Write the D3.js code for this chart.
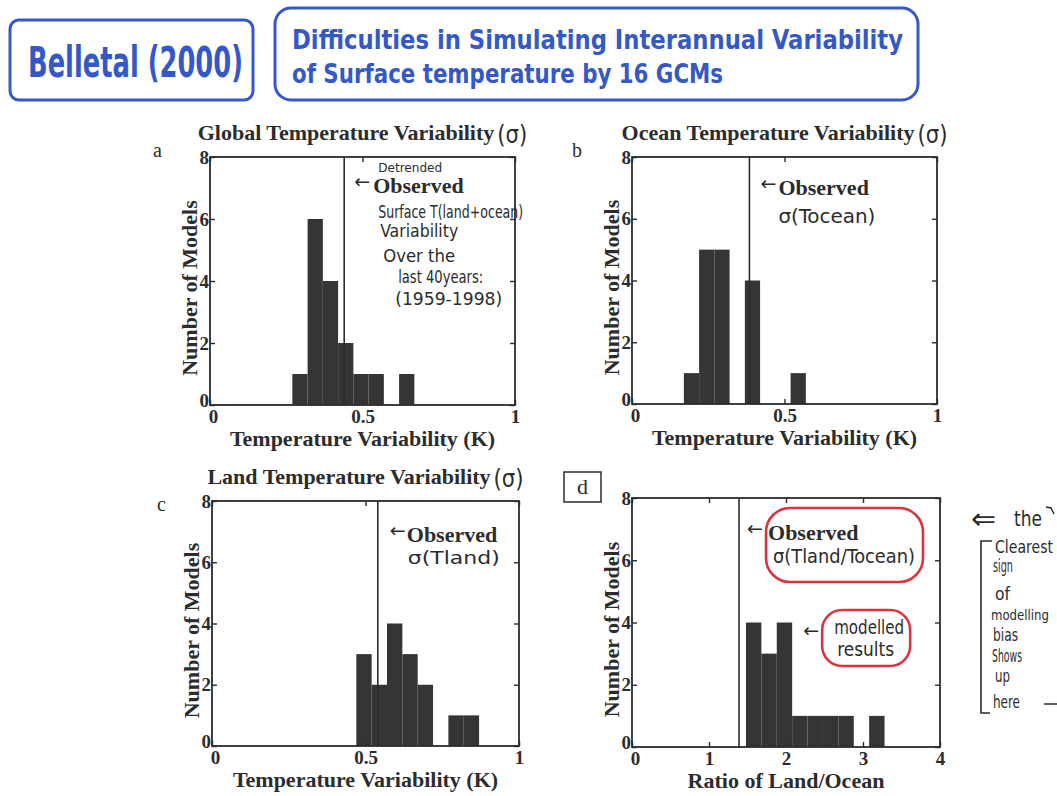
<!DOCTYPE html>
<html><head><meta charset="utf-8">
<script src="https://cdn.jsdelivr.net/npm/d3@7"></script>
<style>
body{margin:0;background:#fff;}
svg{display:block;}
</style></head><body>
<svg id="chart" width="1057" height="796"></svg>
<script>
// ---------------- DATA ----------------
const panelLetters = ["a", "b", "c", "d"];
const panelTitles = ["Global Temperature Variability", "Ocean Temperature Variability", "Land Temperature Variability", ""];
const xAxisLabels = ["Temperature Variability (K)", "Temperature Variability (K)", "Temperature Variability (K)", "Ratio of Land/Ocean"];
const yAxisLabel = "Number of Models";
const yTickValues = [0, 2, 4, 6, 8];
const xTickTemp = [0, 0.5, 1];
const xTickRatio = [0, 1, 2, 3, 4];
const binEdgesGlobal = [0.27, 0.32, 0.37, 0.42, 0.47, 0.52, 0.57, 0.62, 0.67];
const countsGlobal   = [1, 6, 4, 2, 1, 1, 0, 1];
const binEdgesOcean  = [0.17, 0.22, 0.27, 0.32, 0.37, 0.42, 0.47, 0.52, 0.57];
const countsOcean    = [1, 5, 5, 0, 4, 0, 0, 1];
const binEdgesLand   = [0.47, 0.52, 0.57, 0.62, 0.67, 0.72, 0.77, 0.82, 0.87];
const countsLand     = [3, 2, 4, 3, 2, 0, 1, 1];
const binEdgesRatio  = [1.48, 1.68, 1.88, 2.08, 2.28, 2.48, 2.68, 2.88, 3.08, 3.28];
const countsRatio    = [4, 3, 4, 1, 1, 1, 1, 0, 1];
const observedValues = [0.44, 0.385, 0.54, 1.39];
const headerRef = "Belletal (2000)";
const headerTitle = ["Difficulties in Simulating Interannual Variability", "of Surface temperature by 16 GCMs"];
const noteGlobal = ["Surface T(land+ocean)", "Variability", "Over the", "last 40years:", "(1959-1998)"];
const noteRight = ["Clearest", "sign", "of", "modelling", "bias", "Shows", "up", "here"];

// ---------------- LAYOUT ----------------
const svg = d3.select("#chart");
const INK = "#2c2c2c";
const BAR = "#353535";
const BLUE = "#3458c8";
const RED = "#d9343f";
const SERIF = "'Liberation Serif','Times New Roman',serif";
const HAND = "'Liberation Sans Narrow','DejaVu Sans Condensed','Open Sans',sans-serif";
const ARROWF = "'DejaVu Sans',sans-serif";

const frames = [
  {x0: 210, x1: 515, y0: 157, y1: 405},
  {x0: 632, x1: 937, y0: 157, y1: 404},
  {x0: 212, x1: 519, y0: 501, y1: 746},
  {x0: 632, x1: 940, y0: 498, y1: 747}
];
const panels = [
  {edges: binEdgesGlobal, counts: countsGlobal, domain: [0, 1], ticks: xTickTemp},
  {edges: binEdgesOcean,  counts: countsOcean,  domain: [0, 1], ticks: xTickTemp},
  {edges: binEdgesLand,   counts: countsLand,   domain: [0, 1], ticks: xTickTemp},
  {edges: binEdgesRatio,  counts: countsRatio,  domain: [0, 4], ticks: xTickRatio}
];

function handText(g, str, x, y, w, size, color) {
  const t = g.append("text").attr("x", x).attr("y", y)
    .attr("font-family", HAND).attr("font-size", size)
    .attr("fill", color || INK).text(str);
  if (w) t.attr("textLength", w).attr("lengthAdjust", "spacingAndGlyphs");
  return t;
}

// ---------------- HEADER ----------------
const hdr = svg.append("g");
hdr.append("rect").attr("x", 10).attr("y", 20).attr("width", 243).attr("height", 80)
  .attr("rx", 9).attr("fill", "none").attr("stroke", BLUE).attr("stroke-width", 3);
hdr.append("rect").attr("x", 275).attr("y", 8).attr("width", 643).attr("height", 92)
  .attr("rx", 16).attr("fill", "none").attr("stroke", BLUE).attr("stroke-width", 3);
handText(hdr, headerRef, 28, 77, 215, 42, BLUE).attr("font-weight", "bold");
handText(hdr, headerTitle[0], 292, 49, 611, 26, BLUE).attr("font-weight", "bold");
handText(hdr, headerTitle[1], 292, 83, 431, 26, BLUE).attr("font-weight", "bold");

// ---------------- PANELS ----------------
panels.forEach((p, i) => {
  const f = frames[i];
  const g = svg.append("g");
  const x = d3.scaleLinear().domain(p.domain).range([f.x0, f.x1]);
  const y = d3.scaleLinear().domain([0, 8]).range([f.y1, f.y0]);

  // bars
  const bins = p.counts.map((c, k) => ({x0: p.edges[k], x1: p.edges[k + 1], c}))
    .filter(b => b.c > 0);
  g.selectAll("rect.bar").data(bins).join("rect").attr("class", "bar")
    .attr("x", d => x(d.x0)).attr("width", d => x(d.x1) - x(d.x0))
    .attr("y", d => y(d.c)).attr("height", d => y(0) - y(d.c))
    .attr("fill", BAR);

  // observed line
  const ox = x(observedValues[i]);
  g.append("line").attr("x1", ox).attr("x2", ox).attr("y1", y(0)).attr("y2", y(8))
    .attr("stroke", INK).attr("stroke-width", 1.6);

  // frame
  g.append("rect").attr("x", f.x0).attr("y", f.y0)
    .attr("width", f.x1 - f.x0).attr("height", f.y1 - f.y0)
    .attr("fill", "none").attr("stroke", INK).attr("stroke-width", 1.8);

  const fmt = d => String(d);
  const styleAxis = sel => {
    sel.select(".domain").remove();
    sel.selectAll(".tick line").attr("stroke", INK).attr("stroke-width", 1.4);
    sel.selectAll(".tick text").attr("fill", INK).attr("font-family", SERIF)
      .attr("font-weight", "bold").attr("font-size", 19);
  };
  const bx = g.append("g").attr("transform", `translate(0,${f.y1})`)
    .call(d3.axisBottom(x).tickValues(p.ticks).tickFormat(fmt).tickSizeInner(-5).tickSizeOuter(0).tickPadding(5))
    .call(styleAxis);
  bx.selectAll(".tick text").filter(d => d === 0).attr("dx", 3);
  g.append("g").attr("transform", `translate(0,${f.y0})`)
    .call(d3.axisTop(x).tickValues(p.ticks).tickFormat("").tickSizeInner(-5).tickSizeOuter(0))
    .call(styleAxis);
  const ly = g.append("g").attr("transform", `translate(${f.x0},0)`)
    .call(d3.axisLeft(y).tickValues(yTickValues).tickFormat(fmt).tickSizeInner(-5).tickSizeOuter(0).tickPadding(1))
    .call(styleAxis);
  ly.selectAll(".tick text").filter(d => d === 0).attr("dy", "0.1em");
  g.append("g").attr("transform", `translate(${f.x1},0)`)
    .call(d3.axisRight(y).tickValues(yTickValues).tickFormat("").tickSizeInner(-5).tickSizeOuter(0))
    .call(styleAxis);

  // axis labels
  const cx = (f.x0 + f.x1) / 2, cy = (f.y0 + f.y1) / 2;
  g.append("text").attr("x", cx).attr("y", f.y1 + 41).attr("text-anchor", "middle")
    .attr("font-family", SERIF).attr("font-weight", "bold").attr("font-size", 22)
    .attr("fill", INK).text(xAxisLabels[i]);
  g.append("text").attr("transform", `translate(${f.x0 - 13},${cy + 7}) rotate(-90)`)
    .attr("text-anchor", "middle")
    .attr("font-family", SERIF).attr("font-weight", "bold").attr("font-size", 22)
    .attr("fill", INK).text(yAxisLabel);

  // title + handwritten (σ)
  if (panelTitles[i]) {
    const t = g.append("text").attr("y", f.y0 - 17)
      .attr("font-family", SERIF).attr("font-weight", "bold").attr("font-size", 22)
      .attr("fill", INK).text(panelTitles[i]);
    const tw = t.node().getComputedTextLength();
    const sw = 30;
    const start = cx - (tw + 3 + sw) / 2;
    t.attr("x", start);
    handText(g, "(σ)", start + tw + 3, f.y0 - 14, sw, 24);
  }

  // panel letter
  if (i < 3) {
    g.append("text").attr("x", f.x0 - 57 + (i === 1 ? -3 : 0) + (i === 2 ? 2 : 0))
      .attr("y", f.y0 + (i === 2 ? 10 : 0))
      .attr("font-family", SERIF).attr("font-size", 20).attr("fill", INK).text(panelLetters[i]);
  } else {
    g.append("rect").attr("x", f.x0 - 68).attr("y", f.y0 - 26).attr("width", 37).attr("height", 30)
      .attr("fill", "none").attr("stroke", INK).attr("stroke-width", 1.5);
    g.append("text").attr("x", f.x0 - 49.5).attr("y", f.y0 - 4).attr("text-anchor", "middle")
      .attr("font-family", SERIF).attr("font-size", 22).attr("fill", INK).text(panelLetters[i]);
  }

  // "← Observed"
  const obsDy = [36, 38, 41, 42][i];
  const arrDx = [10, 11, 12, 8][i];
  g.append("text").attr("x", ox + arrDx).attr("y", f.y0 + obsDy - 5)
    .attr("font-family", ARROWF).attr("font-size", 19).attr("fill", INK).text("←");
  g.append("text").attr("x", ox + 29).attr("y", f.y0 + obsDy)
    .attr("font-family", SERIF).attr("font-weight", "bold").attr("font-size", 22)
    .attr("fill", INK).text("Observed");

  if (i === 0) {
    handText(g, "Detrended", ox + 34, f.y0 + 15, 64, 12);
    const dx = [34, 36, 39, 54, 51], dy = [61, 80, 105, 126, 148], w = [145, 78, 72, 85, 107];
    noteGlobal.forEach((s, k) => handText(g, s, ox + dx[k], f.y0 + dy[k], w[k], 18));
  }
  if (i === 1) handText(g, "σ(Tocean)", ox + 29, f.y0 + 66, 97, 19);
  if (i === 2) handText(g, "σ(Tland)", ox + 30, f.y0 + 63, 92, 18);
  if (i === 3) {
    handText(g, "σ(Tland/Tocean)", ox + 34, f.y0 + 65, 142, 19);
    g.append("rect").attr("x", ox + 27).attr("y", f.y0 + 10).attr("width", 157).attr("height", 74)
      .attr("rx", 24).attr("fill", "none").attr("stroke", RED).attr("stroke-width", 2.6);
    // modelled results
    const mx = x(2.08) + 11;
    g.append("text").attr("x", mx).attr("y", y(3.6) + 2)
      .attr("font-family", ARROWF).attr("font-size", 19).attr("fill", INK).text("←");
    handText(g, "modelled", mx + 31, y(3.6) - 1, 70, 19);
    handText(g, "results", mx + 34, y(3.6) + 21, 57, 19);
    g.append("rect").attr("x", mx + 19).attr("y", y(3.6) - 25).attr("width", 88).attr("height", 56)
      .attr("rx", 20).attr("fill", "none").attr("stroke", RED).attr("stroke-width", 2.6);
  }
});

// ---------------- RIGHT NOTE ----------------
const rn = svg.append("g");
rn.append("text").attr("x", 971).attr("y", 529)
  .attr("font-family", ARROWF).attr("font-size", 30).attr("fill", INK).text("⇐");
handText(rn, "the", 1014, 526, 28, 21);
rn.append("path").attr("d", "M1046,507 L1051,508 L1054,514").attr("fill", "none")
  .attr("stroke", INK).attr("stroke-width", 1.5);
rn.append("path").attr("d", "M992,541 L981,541 L981,713 L990,713").attr("fill", "none")
  .attr("stroke", INK).attr("stroke-width", 1.6);
rn.append("path").attr("d", "M1044,704 L1057,704").attr("fill", "none")
  .attr("stroke", INK).attr("stroke-width", 1.5);
const rnX = [995, 993, 995, 991, 993, 992, 995, 993];
const rnY = [553, 572, 600, 620, 641, 662, 682, 708];
const rnW = [58, 20, 15, 58, 25, 30, 15, 27];
const rnS = [17, 17, 17, 14, 17, 17, 17, 17];
noteRight.forEach((s, k) => handText(rn, s, rnX[k], rnY[k], rnW[k], rnS[k]));
</script>
</body></html>
